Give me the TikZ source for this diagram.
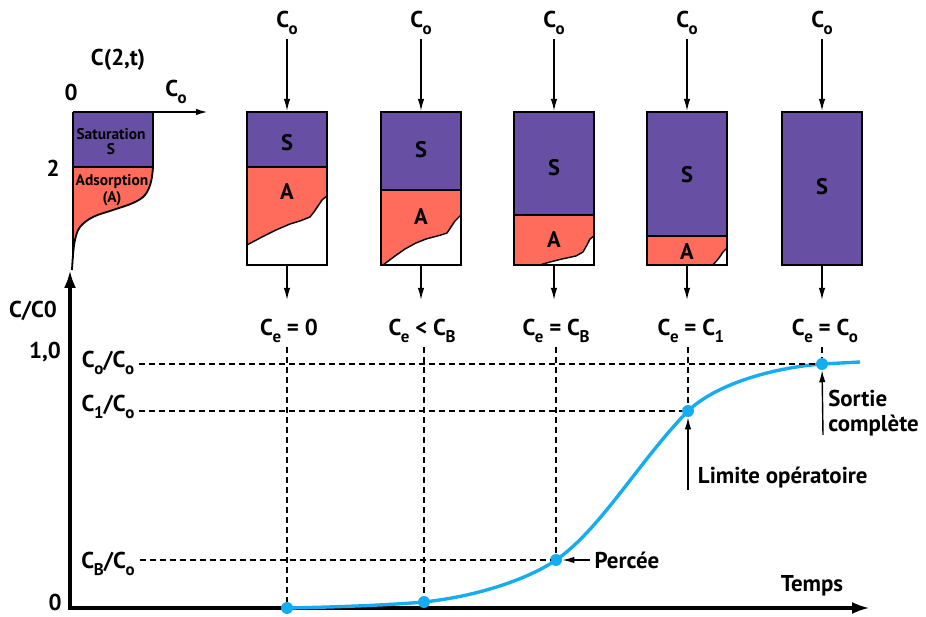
\documentclass[tikz,border=0pt]{standalone}
\usepackage{fontspec}
\setmainfont{PT Sans}
\usetikzlibrary{arrows.meta}

\definecolor{violetS}{RGB}{103,80,164}
\definecolor{rougeA}{RGB}{255,108,92}
\definecolor{bleuC}{RGB}{22,172,240}

% C avec indice
\newcommand{\Ci}[1]{C\kern-0.3pt\raisebox{-0.55ex}{\fontsize{12}{12}\selectfont #1}}

\begin{document}
\begin{tikzpicture}[x=0.25mm,y=-0.25mm,font=\fontsize{16.3}{18}\selectfont\bfseries]
		\tikzset{dot/.style={circle,fill=bleuC,inner sep=0pt,minimum size=8.5pt}};
		\tikzset{fleche/.style={line width=1pt,-{Latex[length=3mm,width=1.6mm]}}};
		\tikzset{axe/.style={line width=2.6pt,line join=miter}};
		\tikzset{tirets/.style={line width=1pt,dash pattern=on 1.5mm off 1mm}};
		\tikzset{colonne/.style={line width=1.8pt}};
		\tikzset{front/.style={line width=1pt,line join=round}};
		\tikzset{petit/.style={font=\fontsize{11}{11}\selectfont\bfseries,inner sep=0pt}};
		\tikzset{lettre/.style={font=\fontsize{16}{16}\selectfont\bfseries}};

		\useasboundingbox (0,0) rectangle (926,617);

		% profil C(2,t)
		\fill[violetS] (73,112) rectangle (153,167);
		\fill[rougeA] (73,167) -- (153,167) -- plot[smooth,tension=0.6] coordinates {(153,167) (151,182) (145,195) (133,203) (113,210) (93,217) (80,227) (75,240) (73,255)} -- cycle;
		\draw[line width=1.3pt] plot[smooth,tension=0.6] coordinates {(153,167) (151,182) (145,195) (133,203) (113,210) (93,217) (80,227) (75,240) (73,255) (72,270)};
		\draw[line width=1.3pt] (73,167) -- (153,167) (153,112) -- (153,167);
		\draw[line width=1.6pt] (73,112) -- (73,258);
		\coordinate (po) at (73,112);
		\coordinate (px) at (208,112);
		\draw[fleche,line width=1.3pt] (po) -- (px);
		\node (ct) at (118,60) {C(2,t)};
		\node (p0) at (71,92) {0};
		\node (pc) at (176,92) {\Ci{o}};
		\node (p2) at (53,168) {2};
		\node[petit] (sat) at (111,134) {Saturation};
		\node[petit] (sat2) at (111,149) {S};
		\node[petit] (ads) at (112,182) {Adsorption};
		\node[petit] (ads2) at (112,199) {(A)};

		% colonnes : zone saturee
		\foreach \i/\x/\yi in {1/287/167,2/421/190,3/554/215,4/687/236,5/822/265}
		\fill[violetS] (\x-40,112) rectangle (\x+40,\yi);

		% zones d'adsorption
		\fill[rougeA] (247,167) -- (247,245) -- (262,237) -- (276,230) -- (290,224) -- (300,221) -- (310,217) -- (314,212) -- (318,206) -- (322,200) -- (327,196) -- (327,167) -- cycle;
		\draw[front] (247,245) -- (262,237) -- (276,230) -- (290,224) -- (300,221) -- (310,217) -- (314,212) -- (318,206) -- (322,200) -- (327,196);
		\fill[rougeA] (381,190) -- (381,265) -- (383,265) -- (395,256) -- (405,249) -- (416,243) -- (426,239) -- (441,235) -- (447,233) -- (451,227) -- (455,221) -- (461,215) -- (461,190) -- cycle;
		\draw[front] (383,265) -- (395,256) -- (405,249) -- (416,243) -- (426,239) -- (441,235) -- (447,233) -- (451,227) -- (455,221) -- (461,215);
		\fill[rougeA] (514,215) -- (514,265) -- (540,265) -- (550,262) -- (562,259) -- (576,256) -- (583,252) -- (587,245) -- (590,239) -- (594,236) -- (594,215) -- cycle;
		\draw[front] (540,265) -- (550,262) -- (562,259) -- (576,256) -- (583,252) -- (587,245) -- (590,239) -- (594,236);
		\fill[rougeA] (647,236) -- (647,265) -- (713,265) -- (719,258) -- (723,252) -- (727,248) -- (727,236) -- cycle;
		\draw[front] (713,265) -- (719,258) -- (723,252) -- (727,248);

		% contours, fleches, S
		\foreach \i/\x/\yi/\ys in {1/287/167/143,2/421/190/150,3/554/215/168,4/687/236/175,5/822/265/187}{
			\draw[line width=1.3pt] (\x-40,\yi) -- (\x+40,\yi);
			\draw[colonne] (\x-40,112) rectangle (\x+40,265);
			\node[lettre] (s\i) at (\x,\ys) {S};
			\node (co\i) at (\x,23) {\Ci{o}};
			\coordinate (t\i) at (\x,111);
			\coordinate (b\i) at (\x,266);
			\coordinate (f\i) at (\x,300);
			\draw[fleche] (co\i) -- (t\i);
			\draw[fleche] (b\i) -- (f\i);
		}
		\foreach \i/\x/\ya in {1/287/192,2/421/217,3/554/240,4/687/252}
		\node[lettre] (a\i) at (\x,\ya) {A};

		% axes
		\coordinate (O) at (70,608);
		\coordinate (ytip) at (70,270);
		\coordinate (xtip) at (870,608);
		\draw[axe,{Latex[length=4.5mm,width=3mm]}-{Latex[length=4.5mm,width=3mm]}] (ytip) -- (O) -- (xtip);
		\node (cc0) at (33,311) {C/C0};
		\node (un) at (45,352) {1,0};
		\node (zero) at (55,602) {0};
		\node (temps) at (812,586) {Temps};

		% courbe de percee
		\draw[bleuC,line width=2.4pt] (287,608) .. controls (340,607) and (390,605) .. (424,602)
			.. controls (480,596) and (530,578) .. (556,560)
			.. controls (600,530) and (640,460) .. (688,411)
			.. controls (715,385) and (770,368) .. (822,364) -- (860,362);
		\node[dot] (p1) at (287,608) {};
		\node[dot] (p2) at (424,602) {};
		\node[dot] (p3) at (556,560) {};
		\node[dot] (p4) at (688,411) {};
		\node[dot] (p5) at (822,364) {};

		% niveaux
		\node (l5) at (108,363) {\Ci{o}/\Ci{o}};
		\node (l4) at (108,407) {\Ci{1}/\Ci{o}};
		\node (l3) at (108,564) {\Ci{B}/\Ci{o}};
		\draw[tirets] (l5.east |- p5) -- (p5);
		\draw[tirets] (l4.east |- p4) -- (p4);
		\draw[tirets] (l3.east |- p3) -- (p3);

		% concentrations en sortie
		\node (ce1) at (289,331) {\Ci{e} = 0};
		\node (ce2) at (422,331) {\Ci{e} < \Ci{B}};
		\node (ce3) at (556,331) {\Ci{e} = \Ci{B}};
		\node (ce4) at (691,331) {\Ci{e} = \Ci{1}};
		\node (ce5) at (825,331) {\Ci{e} = \Ci{o}};
		\foreach \i in {1,...,5}
		\draw[tirets] (ce\i.south -| p\i) -- (p\i);

		% annotations
		\node (perc) at (627,560) {Percée};
		\draw[fleche] (perc) -- (p3);
		\node[anchor=west] (lim) at (693,478) {Limite opératoire};
		\coordinate (limq) at (688,490);
		\draw[fleche] (limq) -- (p4);
		\node[anchor=north west,align=left,inner sep=0pt] (sort) at (828,390) {Sortie\\complète};
		\coordinate (sortq) at (823,435);
		\draw[fleche] (sortq) -- (p5);
\end{tikzpicture}
\end{document}
